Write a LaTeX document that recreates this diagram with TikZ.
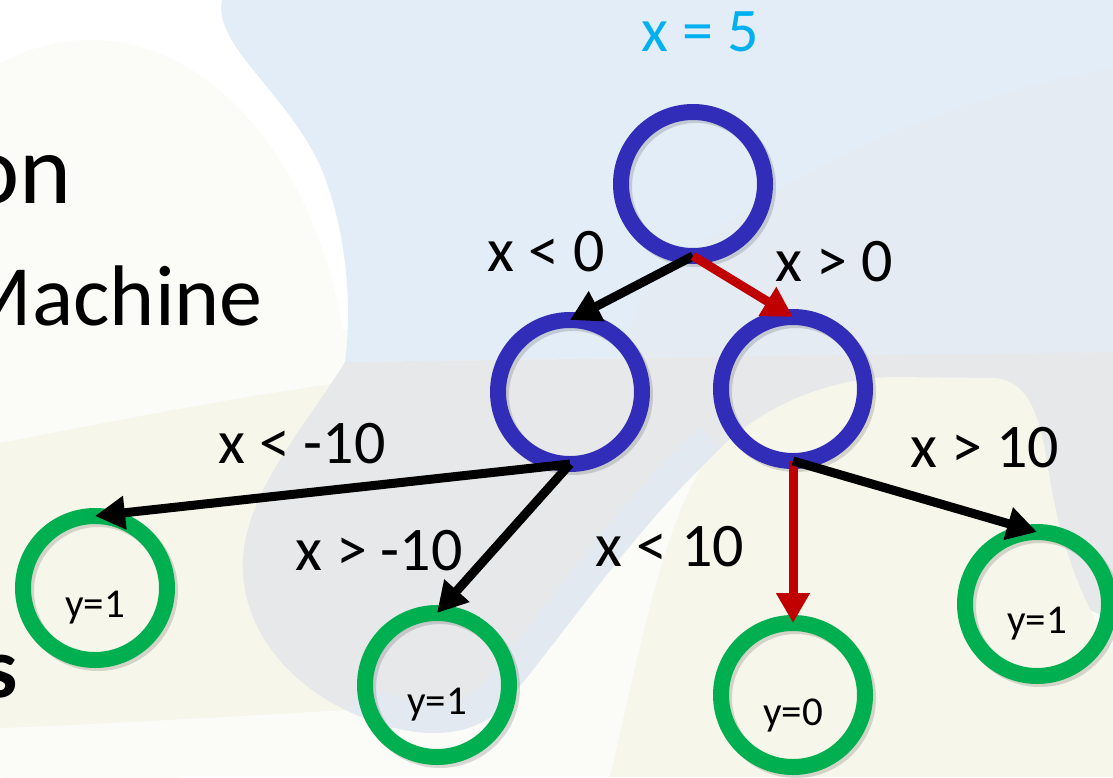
\documentclass[tikz,border=0pt]{standalone}
\usepackage{fontspec}
\setmainfont{Carlito}
\usepackage{tikz}
\usetikzlibrary{arrows.meta}
\definecolor{ringb}{HTML}{312DB8}
\definecolor{leafg}{HTML}{00B050}
\definecolor{hotred}{HTML}{C00000}
\definecolor{inkc}{HTML}{00B0F0}
\definecolor{paperc}{HTML}{FBFBF8}
\definecolor{creamc}{HTML}{F6F6EA}
\definecolor{skyc}{HTML}{E3EDF7}
\definecolor{tintc}{HTML}{E4EBF3}
\definecolor{greyc}{HTML}{E6E8E9}
\definecolor{bandc}{HTML}{E2E9F1}
\tikzset{
  ring/.style={circle,line width=16pt,minimum size=144pt,inner sep=0pt,outer sep=0pt},
  split/.style={ring,draw=ringb},
  leaf/.style={ring,draw=leafg},
  ringsh/.style={draw=black,opacity=0.14,line width=16pt},
  ar/.style={-{Triangle[length=30pt,width=32pt]},line width=9pt},
  cond/.style={font=\fontsize{62}{70}\selectfont,inner sep=0pt},
  yval/.style={font=\fontsize{41}{46}\selectfont,inner sep=0pt},
  slide/.style={anchor=base east,inner sep=0pt}
}
\newcommand\blob[1]{\path[#1] (345,362) -- (1113,352) -- (1113,620) -- (720,450)
  .. controls (640,520) and (560,640) .. (500,710)
  .. controls (460,745) and (400,735) .. (350,712)
  .. controls (280,680) and (240,620) .. (243,560)
  .. controls (246,490) and (310,420) .. cycle;}

\begin{document}
\begin{tikzpicture}[x=1pt,y=-1pt]
\useasboundingbox (0,0) rectangle (1113,777);
\clip (0,0) rectangle (1113,777);
\fill[white] (0,0) rectangle (1113,777);
\fill[paperc] (0,330) rectangle (1113,777);
\fill[paperc] (90,420) ellipse [x radius=260pt,y radius=380pt];
\fill[creamc] (0,443) .. controls (120,420) and (260,392) .. (380,378) -- (440,378)
  -- (440,705) .. controls (300,712) and (150,722) .. (0,728) -- cycle;
\fill[skyc] (222,0) .. controls (212,45) and (290,95) .. (322,170)
  .. controls (348,235) and (352,310) .. (345,362) -- (1113,352) -- (1113,0) -- cycle;
\fill[tintc] (1113,68) .. controls (960,95) and (760,170) .. (640,300) -- (620,360) -- (1113,352) -- cycle;
\blob{fill=greyc}
\begin{scope}
\blob{clip}
\draw[bandc,line width=60pt] (350,712) .. controls (400,735) and (460,745) .. (500,710)
  .. controls (560,640) and (640,520) .. (720,450);
\end{scope}
\fill[creamc] (610,777) .. controls (640,650) and (660,540) .. (700,470)
  .. controls (750,410) and (820,380) .. (890,377) -- (995,378)
  .. controls (1035,382) and (1042,430) .. (1050,480)
  .. controls (1060,540) and (1080,600) .. (1113,650) -- (1113,777) -- cycle;

\node[slide,font=\fontsize{99}{110}\selectfont] (t1) at (72,203) {on};
\node[slide,font=\fontsize{86}{96}\selectfont] (t2) at (263,325) {Machine};
\node[slide,font=\fontsize{86}{96}\selectfont\bfseries] (t3) at (18,697) {s};

\foreach \c in {(693,184),(570,392),(793,389),(95,588),(437,685),(793,695),(1037,604)}
  \draw[ringsh] \c ++(3,3) circle (72pt);

\node[split] (root) at (693,184) {};
\node[split] (lo) at (570,392) {};
\node[split] (hi) at (793,389) {};
\node[leaf] (ll) at (95,588) {};
\node[leaf] (lh) at (437,685) {};
\node[leaf] (hl) at (793,695) {};
\node[leaf] (hh) at (1037,604) {};

\node[yval] (vll) at ([yshift=-20pt]ll.center) {y=1};
\node[yval] (vlh) at ([yshift=-20pt]lh.center) {y=1};
\node[yval] (vhl) at ([yshift=-20pt]hl.center) {y=0};
\node[yval] (vhh) at ([yshift=-20pt]hh.center) {y=1};

\draw[ar] (root.south) -- (lo.north);
\draw[ar,hotred] (root.south) -- (hi.north);
\draw[ar] (lo.south) -- (ll.north);
\draw[ar] (lo.south) -- (lh.north);
\draw[ar,hotred] (hi.south) -- (hl.north);
\draw[ar] (hi.south) -- (hh.north);

\node[cond,text=inkc] (xin) at (700,32) {x = 5};
\node[cond] (c1) at (546,252) {x < 0};
\node[cond] (c2) at (834,262) {x > 0};
\node[cond] (c3) at (302,444) {x < -10};
\node[cond] (c4) at (379,551) {x > -10};
\node[cond] (c5) at (670,547) {x < 10};
\node[cond] (c6) at (985,448) {x > 10};
\end{tikzpicture}
\end{document}
